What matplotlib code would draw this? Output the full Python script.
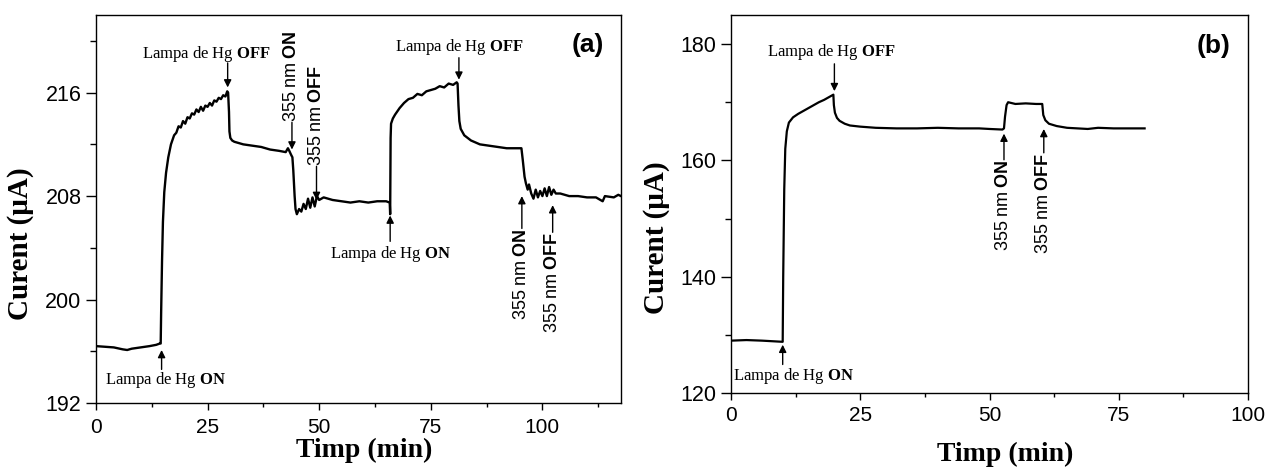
import matplotlib
matplotlib.use("Agg")
import matplotlib.pyplot as plt
from matplotlib.ticker import MultipleLocator

plt.rcParams['font.family'] = ['Liberation Sans', 'DejaVu Sans']
plt.rcParams['mathtext.fontset'] = 'custom'
plt.rcParams['mathtext.rm'] = 'Liberation Serif'
plt.rcParams['mathtext.bf'] = 'Liberation Serif:bold'
plt.rcParams['mathtext.sf'] = 'Liberation Sans'
plt.rcParams['mathtext.bfit'] = 'Liberation Sans:bold'
plt.rcParams['mathtext.it'] = 'Liberation Serif:italic'

# ---------------- data: panel (a) ----------------
time_a = [0, 2, 4, 6, 7, 8, 10, 12, 13.5, 14.3, 14.5,
          14.6, 14.8, 15.0, 15.3, 15.7, 16.2, 16.8, 17.5, 18.0, 18.5, 19, 19.5, 20, 20.5,
          21, 21.5, 22, 22.5, 23, 23.5, 24, 24.5, 25, 25.5, 26, 26.5, 27, 27.5, 28, 28.5,
          29, 29.4, 29.6,
          29.8, 29.9, 30.1, 30.5, 31, 33, 35, 37, 39, 41, 42.5, 43, 43.3, 43.7, 44.0,
          44.2, 44.5, 44.7, 45, 45.5, 46, 46.5, 47, 47.5, 48, 48.5, 49, 49.5, 50,
          51, 52, 53, 55, 57, 59, 61, 63, 65, 65.8, 65.9,
          66.0, 66.1, 66.5, 67, 68, 69, 70, 71, 72, 73, 74, 75, 76, 77, 78, 79, 80, 80.8, 81.0,
          81.2, 81.4, 81.7, 82.5, 84, 86, 88, 90, 92, 95.3,
          95.6, 96, 96.3, 96.7, 97, 97.5, 98, 98.5, 99, 99.5, 100, 100.5, 101, 101.5, 102,
          102.5, 103, 104, 106, 108, 110, 112, 113.5, 114, 116, 117, 117.6]
current_a = [196.4, 196.35, 196.3, 196.15, 196.1, 196.2, 196.3, 196.4, 196.5, 196.6, 196.6,
             199.0, 203.0, 206.0, 208.3, 209.8, 211.0, 212.0, 212.7, 212.9, 213.4, 213.3, 213.8, 213.6, 214.1,
             214.0, 214.4, 214.3, 214.7, 214.5, 214.9, 214.6, 215.0, 214.9, 215.2, 215.0, 215.4, 215.3, 215.6, 215.5, 215.8,
             215.7, 216.1, 216.0,
             214.5, 213.0, 212.5, 212.3, 212.2, 212.0, 211.9, 211.8, 211.6, 211.5, 211.4, 211.7, 211.5, 211.2, 211.0,
             210.0, 208.0, 207.0, 206.6, 207.0, 206.8, 207.4, 207.0, 207.8, 207.1, 207.9, 207.2, 208.0, 207.7,
             207.9, 207.8, 207.7, 207.6, 207.5, 207.6, 207.5, 207.6, 207.6, 207.5, 206.6,
             212.5, 213.6, 214.0, 214.3, 214.8, 215.2, 215.5, 215.6, 215.9, 215.8, 216.1, 216.2, 216.3, 216.5, 216.4, 216.7, 216.6, 216.8, 216.7,
             215.0, 213.8, 213.2, 212.7, 212.3, 212.0, 211.9, 211.8, 211.7, 211.7,
             210.8, 209.5, 209.0, 208.5, 208.9, 208.2, 207.8, 208.5, 207.9, 208.4, 208.0, 208.6, 208.0, 208.7, 208.1,
             208.5, 208.2, 208.2, 208.0, 208.0, 207.9, 207.9, 207.6, 208.0, 207.9, 208.1, 208.0]

# ---------------- data: panel (b) ----------------
time_b = [0, 3, 6, 8, 10, 10.1, 10.3, 10.5, 10.8, 11.2, 12, 13, 14, 15, 16, 17, 18, 19, 19.8,
          19.9, 20.1, 20.5, 21, 22, 23, 25, 28, 32, 36, 40, 44, 48, 50, 52.5, 52.8,
          53.0, 53.3, 53.6, 55, 57, 59, 60.2, 60.4, 60.8, 61.5, 63, 65, 67, 69, 71, 74, 77, 80]
current_b = [129.0, 129.1, 129.0, 128.9, 128.8, 140.0, 155.0, 162.0, 165.0, 166.5, 167.4, 168.0, 168.5, 169.0, 169.5, 170.0, 170.4, 170.9, 171.3,
             169.5, 168.2, 167.3, 166.8, 166.3, 166.0, 165.8, 165.6, 165.5, 165.5, 165.6, 165.5, 165.5, 165.4, 165.3, 165.5,
             167.5, 169.5, 170.0, 169.7, 169.8, 169.7, 169.7, 167.8, 166.9, 166.3, 165.9, 165.6, 165.5, 165.4, 165.6, 165.5, 165.5, 165.5]

# ---------------- annotations ----------------
lamp_on = r'$\mathrm{Lampa\ de\ Hg\ }\mathbf{ON}$'
lamp_off = r'$\mathrm{Lampa\ de\ Hg\ }\mathbf{OFF}$'
uv_on = r'$\mathsf{355\ nm\ }\mathbfit{ON}$'
uv_off = r'$\mathsf{355\ nm\ }\mathbfit{OFF}$'

# horizontal labels: (text, text_x, text_y, arrow_x, arrow_from_y, arrow_to_y)
hlabels_a = [(lamp_on, 15.6, 193.8, 14.7, 194.6, 196.1),
             (lamp_off, 24.6, 219.0, 29.5, 218.3, 216.4),
             (lamp_off, 81.4, 219.5, 81.3, 218.7, 217.0),
             (lamp_on, 65.9, 203.5, 65.9, 204.5, 206.5)]
# rotated labels: (text, x, text_edge_y, edge ('bottom' / 'top'), arrow_to_y)
vlabels_a = [(uv_on, 43.9, 213.7, 'bottom', 211.6),
             (uv_off, 49.4, 210.3, 'bottom', 207.7),
             (uv_on, 95.4, 205.5, 'top', 208.0),
             (uv_off, 102.3, 205.2, 'top', 207.3)]
hlabels_b = [(lamp_on, 12.0, 122.9, 10.0, 124.9, 128.3),
             (lamp_off, 19.4, 178.7, 20.0, 176.6, 171.9)]
vlabels_b = [(uv_on, 52.8, 160.1, 'top', 164.6),
             (uv_off, 60.5, 161.3, 'top', 165.4)]

fig = plt.figure(figsize=(12.66, 4.67), dpi=100)
ax_a = fig.add_axes([0.0758, 0.137, 0.4147, 0.8308])
ax_b = fig.add_axes([0.5774, 0.1585, 0.4084, 0.8094])

arrow_kw = dict(arrowstyle='-|>', color='black', lw=1.0, mutation_scale=11,
                shrinkA=0, shrinkB=0)


def style(ax, xlim, ylim, xmaj, ymaj, xpad, label_xy):
    ax.set_xlim(*xlim)
    ax.set_ylim(*ylim)
    ax.xaxis.set_major_locator(MultipleLocator(xmaj))
    ax.xaxis.set_minor_locator(MultipleLocator(xmaj / 2))
    ax.yaxis.set_major_locator(MultipleLocator(ymaj))
    ax.yaxis.set_minor_locator(MultipleLocator(ymaj / 2))
    ax.tick_params(axis='x', which='major', direction='out', length=5, width=1.0,
                   labelsize=15, pad=xpad)
    ax.tick_params(axis='x', which='minor', direction='out', length=3, width=1.0)
    ax.tick_params(axis='y', which='major', direction='out', length=7.5, width=1.0,
                   labelsize=15.5, pad=3)
    ax.tick_params(axis='y', which='minor', direction='out', length=4.5, width=1.0)
    ax.tick_params(top=False, right=False, which='both')
    for s in ax.spines.values():
        s.set_linewidth(1.0)
    ax.set_ylabel('Curent (μA)', family='Liberation Serif', fontweight='bold', fontsize=21)
    ax.set_xlabel('Timp (min)', family='Liberation Serif', fontweight='bold', fontsize=20)
    ax.yaxis.set_label_coords(-0.118, 0.41)
    ax.xaxis.set_label_coords(label_xy[0], label_xy[1])


def annotate(ax, hl, vl):
    for txt, tx, ty, axx, y0, y1 in hl:
        ax.text(tx, ty, txt, ha='center', va='center', fontsize=12)
        ax.annotate('', xy=(axx, y1), xytext=(axx, y0), arrowprops=arrow_kw)
    for txt, x, ey, edge, tip in vl:
        ax.text(x, ey, txt, rotation=90, ha='center', va=edge, fontsize=13)
        ax.annotate('', xy=(x, tip), xytext=(x, ey), arrowprops=arrow_kw)


ax_a.plot(time_a, current_a, color='black', lw=1.7)
style(ax_a, (0, 117.6), (192, 222), 25, 8, 6, (0.51, -0.09))
annotate(ax_a, hlabels_a, vlabels_a)
ax_a.text(110.2, 219.7, '(a)', ha='center', va='center', fontsize=19, fontweight='bold')

ax_b.plot(time_b, current_b, color='black', lw=1.6)
style(ax_b, (0, 100), (120, 185), 25, 20, 4.5, (0.53, -0.13))
annotate(ax_b, hlabels_b, vlabels_b)
ax_b.text(93.4, 179.7, '(b)', ha='center', va='center', fontsize=19, fontweight='bold')

fig.savefig('out.png', dpi=100)
